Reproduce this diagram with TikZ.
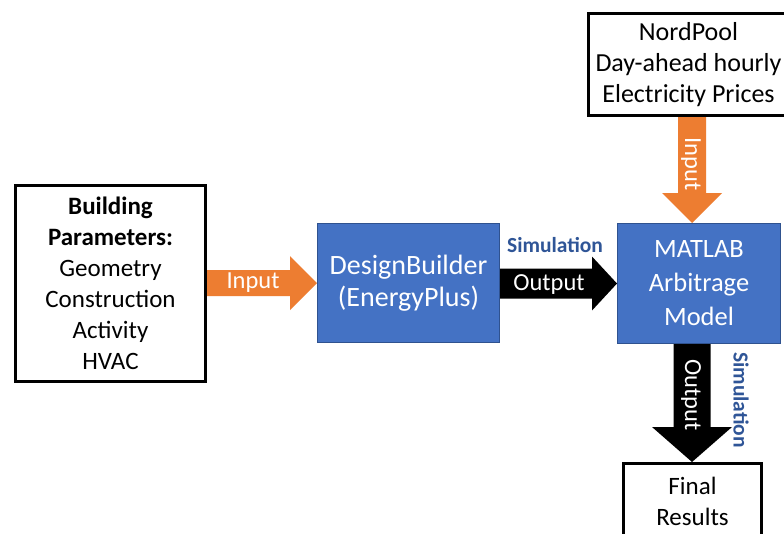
\documentclass[tikz,border=0pt]{standalone}
\usepackage{fontspec}
\setmainfont{Carlito}
\usetikzlibrary{calc}
\pgfdeclarelayer{background}
\pgfsetlayers{background,main}
\definecolor{boxblue}{HTML}{4472C4}
\definecolor{boxedge}{HTML}{2F528F}
\definecolor{arrorange}{HTML}{ED7D31}
\definecolor{simblue}{HTML}{2F5597}
\newcommand{\fsz}[2]{\fontsize{#1}{#2}\selectfont}
% horizontal block arrow: from, to, body half, head half, head length, style
\newcommand{\harrow}[6]{\fill[#6] let \p1=(#1.east), \p2=(#2.west) in
  (\x1,\y2+#3) -- (\x2-#5,\y2+#3) -- (\x2-#5,\y2+#4) -- (\x2,\y2) --
  (\x2-#5,\y2-#4) -- (\x2-#5,\y2-#3) -- (\x1,\y2-#3) -- cycle;}
% vertical block arrow: from, to, x coordinate, body half, head half, head length, style
\newcommand{\varrow}[7]{\fill[#7] let \p1=(#1.south), \p2=(#2.north), \p3=(#3) in
  (\x3-#4,\y1) -- (\x3-#4,\y2+#6) -- (\x3-#5,\y2+#6) -- (\x3,\y2) --
  (\x3+#5,\y2+#6) -- (\x3+#4,\y2+#6) -- (\x3+#4,\y1) -- cycle;}
\begin{document}
\begin{tikzpicture}[x=1pt,y=-1pt,
  whitebox/.style={draw=black, line width=3pt, fill=white, align=center, inner sep=0pt, text=black},
  bluebox/.style={draw=boxedge, line width=1pt, fill=boxblue, align=center, inner sep=0pt, text=white},
  arrlabel/.style={text=white, font=\fsz{24.5}{28}, inner sep=0pt},
  simlabel/.style={text=simblue, font=\bfseries\fsz{21.5}{25}, inner sep=0pt}]
\useasboundingbox (0,0) rectangle (784,533);
\begin{pgfonlayer}{background}
  \fill[white] (0,0) rectangle (784,533);
\end{pgfonlayer}

\node[whitebox, minimum width=190pt, minimum height=196pt, font=\fsz{25}{31}] (bp) at (110.5,283.5)
  {\textbf{Building}\\\textbf{Parameters:}\\Geometry\\Construction\\Activity\\HVAC};
\node[bluebox, minimum width=182pt, minimum height=119pt, font=\fsz{28}{32}] (db) at (408.5,283)
  {DesignBuilder\\(EnergyPlus)};
\node[bluebox, minimum width=163pt, minimum height=120pt, font=\fsz{26.5}{34}] (ml) at (699,283.5)
  {MATLAB\\Arbitrage\\Model};
\node[whitebox, minimum width=200pt, minimum height=102pt, font=\fsz{26}{31}] (np) at (688.5,64.5)
  {NordPool\\Day-ahead hourly\\Electricity Prices};
\node[whitebox, minimum width=138pt, minimum height=75pt, font=\fsz{25}{31}] (fr) at (692.5,501)
  {Final\\Results};

\coordinate (vx) at (692,0);

\begin{pgfonlayer}{background}
  \harrow{bp}{db}{13pt}{27pt}{27pt}{arrorange}
  \harrow{db}{ml}{15pt}{27pt}{25pt}{black}
  \varrow{np}{ml}{vx}{14pt}{30pt}{30pt}{arrorange}
  \varrow{ml}{fr}{vx}{18.5pt}{40pt}{35pt}{black}
\end{pgfonlayer}

\node[arrlabel] (lin1) at (253,283) {Input};
\node[arrlabel] (lout1) at (549,285) {Output};
\node[simlabel] (lsim1) at (555,245) {Simulation};
\node[arrlabel, rotate=-90] (lin2) at (691,164) {Input};
\node[arrlabel, rotate=-90] (lout2) at (691,395) {Output};
\node[simlabel, rotate=-90] (lsim2) at (741,400) {Simulation};
\end{tikzpicture}
\end{document}
